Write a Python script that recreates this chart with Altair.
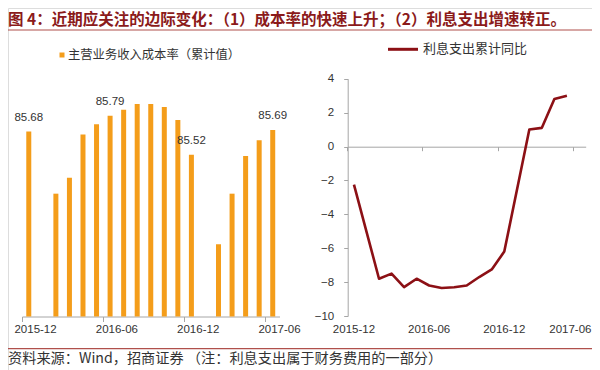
import altair as alt
import pandas as pd

# ---------------- data ----------------
MONTHS = ["2015-12", "2016-01", "2016-02", "2016-03", "2016-04", "2016-05",
          "2016-06", "2016-07", "2016-08", "2016-09", "2016-10", "2016-11",
          "2016-12", "2017-01", "2017-02", "2017-03", "2017-04", "2017-05",
          "2017-06"]
TICK_MONTHS = ["2015-12", "2016-06", "2016-12", "2017-06"]

COST_MONTHS = ["2015-12", "2016-02", "2016-03", "2016-04", "2016-05", "2016-06",
               "2016-07", "2016-08", "2016-09", "2016-10", "2016-11", "2016-12",
               "2017-02", "2017-03", "2017-04", "2017-05", "2017-06"]
COST_VALUES = [85.68, 85.25, 85.36, 85.66, 85.73, 85.79,
               85.83, 85.87, 85.87, 85.85, 85.76, 85.52,
               84.90, 85.25, 85.51, 85.62, 85.69]
LABEL_MONTHS = ["2015-12", "2016-06", "2016-12", "2017-06"]
LABEL_TEXTS = ["85.68", "85.79", "85.52", "85.69"]

INT_MONTHS = ["2015-12", "2016-02", "2016-03", "2016-04", "2016-05", "2016-06",
              "2016-07", "2016-08", "2016-09", "2016-10", "2016-11", "2016-12",
              "2017-02", "2017-03", "2017-04", "2017-05"]
INT_VALUES = [-2.25, -7.8, -7.5, -8.3, -7.8, -8.2,
              -8.35, -8.3, -8.2, -7.7, -7.25, -6.2,
              1.0, 1.1, 2.8, 3.0]

TITLE = "图 4：近期应关注的边际变化：（1）成本率的快速上升；（2）利息支出增速转正。"
SOURCE = "资料来源：Wind，招商证券 （注：利息支出属于财务费用的一部分）"
LEGEND_BAR = "主营业务收入成本率（累计值）"
LEGEND_LINE = "利息支出累计同比"

# ---------------- style ----------------
W, H = 584, 362
ORANGE = "#F49D1A"
DARKRED = "#8C1015"
TITLE_RED = "#8B1A1A"
RULE_RED = "#B0504C"
AXIS_GREY = "#A6A6A6"
TXT = "#333333"
NUM_FONT = "Liberation Sans"
CJK_FONT = "Noto Sans CJK SC"

cost_df = pd.DataFrame({"month": COST_MONTHS, "v": COST_VALUES})
lab_df = pd.DataFrame({"month": LABEL_MONTHS, "t": LABEL_TEXTS})
lab_df = lab_df.merge(cost_df, on="month")
int_df = pd.DataFrame({"month": INT_MONTHS, "v": INT_VALUES})
rlab_df = pd.DataFrame({"month": TICK_MONTHS})

# ---------- left panel (bars) ----------
L_X0, L_X1 = 14, 271.5
L_BASE_Y, L_TOP_Y = 308.5, 77.3
l_step = (L_X1 - L_X0) / len(MONTHS)

lx_scale = alt.Scale(domain=MONTHS, type="band", paddingInner=0, paddingOuter=0,
                     range=[L_X0, L_X1])
ly_scale = alt.Scale(domain=[84.4, 86.0], zero=False, range=[L_BASE_Y, L_TOP_Y])

lx_axis = alt.Axis(values=TICK_MONTHS, bandPosition=0, labelOffset=l_step / 2,
                   orient="bottom", offset=L_BASE_Y - H, title=None, labelAngle=0,
                   domainColor=AXIS_GREY, tickColor=AXIS_GREY, tickSize=5,
                   labelPadding=2, labelFont=NUM_FONT, labelFontSize=11.5,
                   labelColor=TXT, grid=False)

bars = alt.Chart(cost_df).mark_bar(size=5, color=ORANGE).encode(
    x=alt.X("month:N", scale=lx_scale, axis=lx_axis),
    y=alt.Y("v:Q", scale=ly_scale, axis=None),
    y2=alt.datum(84.4),
)
bar_labels = alt.Chart(lab_df).mark_text(
    dy=-14, baseline="middle", align="center", font=NUM_FONT, fontSize=11.5, color=TXT
).encode(
    x=alt.X("month:N", scale=lx_scale, axis=lx_axis),
    y=alt.Y("v:Q", scale=ly_scale, axis=None),
    text="t:N",
)
left = alt.layer(bars, bar_labels)

# ---------- right panel (line) ----------
R_X0, R_X1 = 339.7, 577.7
R_BOT_Y, R_TOP_Y = 308.0, 70.7
R_ZERO_Y = 138.7
r_step = (R_X1 - R_X0) / len(MONTHS)

rx_axis = alt.Axis(values=TICK_MONTHS, bandPosition=0, labels=False,
                   orient="bottom", offset=R_ZERO_Y - H, title=None,
                   domainColor=AXIS_GREY, tickColor=AXIS_GREY, tickSize=4,
                   grid=False)
ry_axis = alt.Axis(values=[-10, -8, -6, -4, -2, 0, 2, 4], orient="left",
                   offset=-R_X0, title=None, domainColor=AXIS_GREY,
                   tickColor=AXIS_GREY, tickSize=4, labelPadding=10,
                   labelFont=NUM_FONT, labelFontSize=11.5, labelColor=TXT, grid=False)

rx_scale = alt.Scale(domain=MONTHS, type="band", paddingInner=0, paddingOuter=0,
                     range=[R_X0, R_X1])
ry_scale = alt.Scale(domain=[-10, 4], zero=False, range=[R_BOT_Y, R_TOP_Y])

line = alt.Chart(int_df).mark_line(color=DARKRED, strokeWidth=2.6,
                                    strokeJoin="round").encode(
    x=alt.X("month:N", scale=rx_scale, axis=rx_axis),
    y=alt.Y("v:Q", scale=ry_scale, axis=ry_axis),
)
# category labels of the right panel sit at the bottom, below -10
rlab_mid = alt.Chart(rlab_df).transform_filter(
    "datum.month !== '2017-06'"
).mark_text(
    align="center", baseline="middle", dy=14, font=NUM_FONT, fontSize=11.5, color=TXT
).encode(
    x=alt.X("month:N", scale=rx_scale, axis=rx_axis),
    y=alt.datum(-10, scale=ry_scale),
    text="month:N",
)
rlab_last = alt.Chart(rlab_df).transform_filter(
    "datum.month === '2017-06'"
).mark_text(
    align="right", baseline="middle", dy=14, dx=W - 0.5 - (R_X1 - r_step / 2),
    font=NUM_FONT, fontSize=11.5, color=TXT
).encode(
    x=alt.X("month:N", scale=rx_scale, axis=rx_axis),
    y=alt.datum(-10, scale=ry_scale),
    text="month:N",
)
right = alt.layer(line, rlab_mid, rlab_last)

# ---------- decorations ----------
one = pd.DataFrame({"a": [1]})
title_txt = alt.Chart(pd.DataFrame({"t": [TITLE]})).mark_text(
    align="left", baseline="middle", font=CJK_FONT, fontSize=15.5,
    fontWeight="bold", color=TITLE_RED
).encode(x=alt.value(0), y=alt.value(12), text="t:N")
title_rule = alt.Chart(one).mark_rule(color=RULE_RED, strokeWidth=1.2).encode(
    x=alt.value(0), x2=alt.value(W), y=alt.value(22))
foot_rule = alt.Chart(one).mark_rule(color=RULE_RED, strokeWidth=1.2).encode(
    x=alt.value(0), x2=alt.value(W), y=alt.value(340.7))
foot_txt = alt.Chart(pd.DataFrame({"t": [SOURCE]})).mark_text(
    align="left", baseline="middle", font=CJK_FONT, fontSize=14.2, color=TXT
).encode(x=alt.value(0), y=alt.value(351), text="t:N")

leg_bar_sym = alt.Chart(one).mark_square(size=25, color=ORANGE, opacity=1).encode(
    x=alt.value(54), y=alt.value(47))
leg_bar_txt = alt.Chart(pd.DataFrame({"t": [LEGEND_BAR]})).mark_text(
    align="left", baseline="middle", font=CJK_FONT, fontSize=12.3, color=TXT
).encode(x=alt.value(60), y=alt.value(47), text="t:N")
leg_line_sym = alt.Chart(one).mark_rule(color=DARKRED, strokeWidth=3).encode(
    x=alt.value(380), x2=alt.value(410), y=alt.value(41.3))
leg_line_txt = alt.Chart(pd.DataFrame({"t": [LEGEND_LINE]})).mark_text(
    align="left", baseline="middle", font=CJK_FONT, fontSize=13, color=TXT
).encode(x=alt.value(415), y=alt.value(41.3), text="t:N")

chart = alt.layer(
    left, right,
    title_txt, title_rule, foot_rule, foot_txt,
    leg_bar_sym, leg_bar_txt, leg_line_sym, leg_line_txt,
).resolve_scale(x="independent", y="independent").properties(
    width=W, height=H,
    autosize=alt.AutoSizeParams(type="none"),
    padding=0,
).configure_view(stroke=None).configure(background="white")

chart.save("out.html", embed_options={"renderer": "svg", "actions": False})
